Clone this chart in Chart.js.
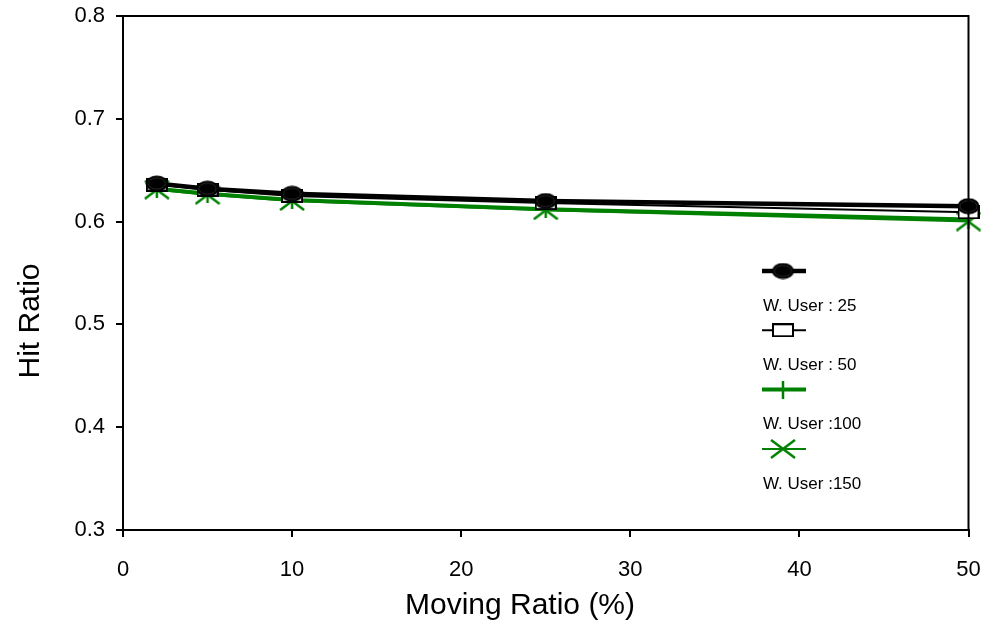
<!DOCTYPE html>
<html>
<head>
<meta charset="utf-8">
<script src="https://cdn.jsdelivr.net/npm/chart.js@4.4.0/dist/chart.umd.min.js"></script>
<style>
  html, body { margin: 0; padding: 0; background: #fff; }
  #wrap { width: 981px; height: 635px; }
</style>
</head>
<body>
<div id="wrap"><canvas id="hit-chart" width="981" height="635"></canvas></div>
<script>
// moving ratio (%) on x, hit ratio on y
const movingRatio = [2, 5, 10, 25, 50];
const user25 = [0.637, 0.632, 0.627, 0.620, 0.615];
const user50 = [0.636, 0.631, 0.625, 0.618, 0.609];
const user100 = [0.632, 0.627, 0.621, 0.612, 0.602];
const user150 = [0.631, 0.626, 0.620, 0.611, 0.600];
const seriesLabels = ['W. User : 25', 'W. User : 50', 'W. User :100', 'W. User :150'];
const xTicks = [0, 10, 20, 30, 40, 50];
const yTicks = [0.3, 0.4, 0.5, 0.6, 0.7, 0.8];

const GREEN = '#008000';
const FONT = '"Liberation Sans", Arial, sans-serif';

function pts(vals) {
    return movingRatio.map((x, i) => ({ x: x, y: vals[i] }));
}

// small marker images (the original markers are wider than tall)
function marker(w, h, draw) {
    const c = document.createElement('canvas');
    c.width = w; c.height = h;
    draw(c.getContext('2d'), w, h);
    return c;
}
const ellipseMark = marker(23, 17, (g, w, h) => {
    g.fillStyle = '#000';
    g.beginPath();
    g.ellipse(w / 2, h / 2, w / 2 - 0.5, h / 2 - 0.5, 0, 0, Math.PI * 2);
    g.fill();
    g.strokeStyle = '#555';
    g.lineWidth = 1;
    g.setLineDash([1, 1]);
    g.beginPath();
    g.ellipse(w / 2, h / 2, w / 2 - 3, h / 2 - 3, 0, 0, Math.PI * 2);
    g.stroke();
});
const boxMark = marker(22, 14, (g, w, h) => {
    g.fillStyle = '#fff';
    g.fillRect(1, 1, w - 2, h - 2);
    g.strokeStyle = '#000';
    g.lineWidth = 2;
    g.strokeRect(1, 1, w - 2, h - 2);
});
const plusMark = marker(22, 18, (g, w, h) => {
    g.strokeStyle = GREEN;
    g.lineWidth = 2.5;
    g.beginPath();
    g.moveTo(w / 2, 0); g.lineTo(w / 2, h);
    g.stroke();
});
const xMark = marker(26, 20, (g, w, h) => {
    g.strokeStyle = GREEN;
    g.lineWidth = 2.5;
    g.beginPath();
    g.moveTo(1, 1); g.lineTo(w - 1, h - 1);
    g.moveTo(w - 1, 1); g.lineTo(1, h - 1);
    g.stroke();
});

// box around plot + axis titles + legend drawn like the original figure
const framePlugin = {
    id: 'frame',
    afterDraw(chart) {
        const { ctx, chartArea: a } = chart;
        ctx.save();
        ctx.strokeStyle = '#000';
        ctx.lineWidth = 2;
        ctx.beginPath();
        ctx.moveTo(a.left, a.top);
        ctx.lineTo(a.right + 1, a.top);
        ctx.moveTo(a.right, a.top);
        ctx.lineTo(a.right, a.bottom);
        ctx.stroke();

        ctx.fillStyle = '#000';
        ctx.font = '30px ' + FONT;
        ctx.textAlign = 'center';
        ctx.textBaseline = 'middle';
        ctx.fillText('Moving Ratio (%)', 520, 606);
        ctx.translate(31, 321);
        ctx.rotate(-Math.PI / 2);
        ctx.fillText('Hit Ratio', 0, 0);
        ctx.restore();

        // legend
        chart.data.datasets.forEach((ds, i) => {
            const cy = 271 + i * 59.3;
            ctx.save();
            ctx.strokeStyle = ds.borderColor;
            ctx.lineWidth = ds.borderWidth;
            ctx.beginPath();
            ctx.moveTo(762, cy);
            ctx.lineTo(806, cy);
            ctx.stroke();
            Chart.helpers.drawPoint(ctx, { pointStyle: ds.pointStyle, radius: 8, borderWidth: 0 }, 783, cy);
            ctx.fillStyle = '#000';
            ctx.font = '17px ' + FONT;
            ctx.textAlign = 'left';
            ctx.textBaseline = 'middle';
            ctx.fillText(ds.label, 763, cy + 35);
            ctx.restore();
        });
    }
};

new Chart(document.getElementById('hit-chart'), {
    type: 'line',
    data: {
        datasets: [
            {
                label: seriesLabels[0],
                data: pts(user25),
                borderColor: '#000',
                borderWidth: 4.5,
                pointStyle: ellipseMark
            },
            {
                label: seriesLabels[1],
                data: pts(user50),
                borderColor: '#000',
                borderWidth: 2,
                pointStyle: boxMark
            },
            {
                label: seriesLabels[2],
                data: pts(user100),
                borderColor: GREEN,
                borderWidth: 4,
                pointStyle: plusMark
            },
            {
                label: seriesLabels[3],
                data: pts(user150),
                borderColor: GREEN,
                borderWidth: 2,
                pointStyle: xMark
            }
        ]
    },
    options: {
        responsive: false,
        animation: false,
        clip: false,
        layout: { padding: { top: 16, right: 0, left: 0, bottom: 0 } },
        plugins: { legend: { display: false }, tooltip: { enabled: false } },
        elements: { line: { tension: 0 }, point: { radius: 8 } },
        scales: {
            x: {
                type: 'linear',
                min: 0,
                max: 50,
                afterFit: (s) => { s.height = 105; s.paddingRight = 12; s.paddingLeft = 0; },
                afterBuildTicks: (s) => { s.ticks = xTicks.map(v => ({ value: v })); },
                grid: { drawOnChartArea: false, drawTicks: true, tickLength: 7, color: '#000', lineWidth: 2 },
                border: { color: '#000', width: 2 },
                ticks: { color: '#000', font: { family: FONT, size: 22 }, padding: 20, maxRotation: 0 }
            },
            y: {
                type: 'linear',
                min: 0.3,
                max: 0.8,
                afterFit: (s) => { s.width = 123; s.paddingTop = 0; s.paddingBottom = 0; },
                afterBuildTicks: (s) => { s.ticks = yTicks.map(v => ({ value: v })); },
                grid: { drawOnChartArea: false, drawTicks: true, tickLength: 7, color: '#000', lineWidth: 2 },
                border: { color: '#000', width: 2 },
                ticks: {
                    color: '#000',
                    font: { family: FONT, size: 22 },
                    padding: 11,
                    callback: (v) => v.toFixed(1)
                }
            }
        }
    },
    plugins: [framePlugin]
});
</script>
</body>
</html>
